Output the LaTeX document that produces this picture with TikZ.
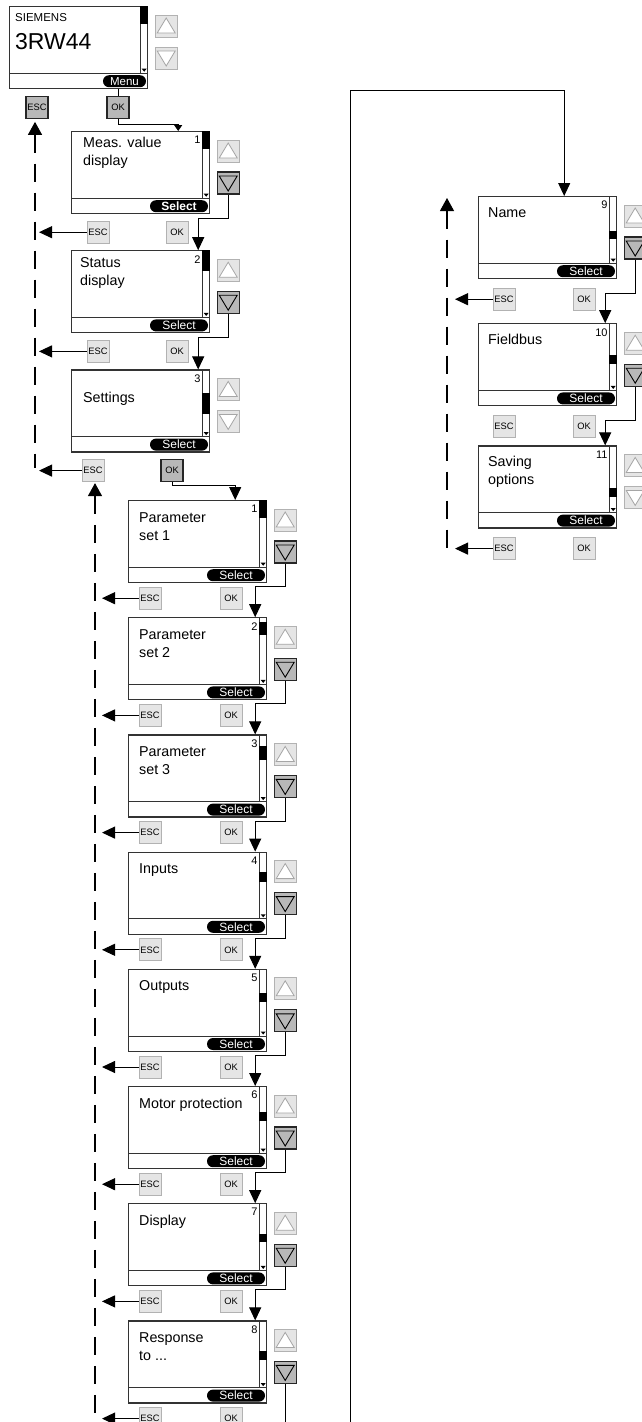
\documentclass[tikz,border=0pt]{standalone}
\usepackage{fontspec}
\setmainfont{Liberation Sans}
\usetikzlibrary{positioning,arrows.meta,calc}

\begin{document}
\begin{tikzpicture}[
    x=1pt, y=-1pt,
    tela/.style={draw=black!80, line width=1.2pt, minimum width=138pt,
                 minimum height=82pt, inner sep=0pt},
    rotulo/.style={font=\fontsize{14.3}{18}\selectfont, align=left,
                   anchor=north west, inner sep=0pt},
    numero/.style={font=\fontsize{11}{12}\selectfont, anchor=north east,
                   inner sep=0pt},
    pilula/.style={fill=black, rounded corners=6pt, minimum width=58pt,
                   minimum height=12pt, inner sep=0pt, text=white,
                   font=\fontsize{12}{12}\selectfont, anchor=east},
    tecla/.style={draw=black!30, fill=black!10, line width=1pt,
                  minimum size=22pt, inner sep=0pt,
                  font=\fontsize{9.3}{10}\selectfont},
    teclaon/.style={tecla, draw=black!85, fill=black!28, line width=1.3pt},
    sobe/.style={tecla, path picture={
        \draw[black!35, fill=white, line width=0.8pt]
          ([shift={(-9,7)}]path picture bounding box.center)
          -- ([shift={(9,7)}]path picture bounding box.center)
          -- ([shift={(0,-8)}]path picture bounding box.center) -- cycle;}},
    desce/.style={tecla, path picture={
        \draw[black!35, fill=white, line width=0.8pt]
          ([shift={(-9,-7)}]path picture bounding box.center)
          -- ([shift={(9,-7)}]path picture bounding box.center)
          -- ([shift={(0,8)}]path picture bounding box.center) -- cycle;}},
    desceon/.style={teclaon, path picture={
        \draw[black, line width=0.9pt]
          ([shift={(-9,-7)}]path picture bounding box.center)
          -- ([shift={(9,-7)}]path picture bounding box.center)
          -- ([shift={(0,8)}]path picture bounding box.center) -- cycle;}},
    seta/.style={-{Triangle[length=13pt, width=12pt]}, line width=1pt},
    lig/.style={line width=1pt},
    volta/.style={line width=1.1pt, dash pattern=on 18pt off 11pt},
  ]
  \path[use as bounding box, fill=white] (0,0) rectangle (641,1422);

  % telas
  \node[tela, anchor=north west] (ini) at (9,6) {};
  \node[tela, anchor=north west] (m1) at (71,131) {};
  \node[tela, below=36pt of m1] (m2) {};
  \node[tela, below=36pt of m2] (m3) {};
  \node[tela, anchor=north west] (p1) at (128,500) {};
  \foreach \a/\b in {p1/p2, p2/p3, p3/p4, p4/p5, p5/p6, p6/p7, p7/p8}
    {\node[tela, below=34pt of \a] (\b) {};}
  \node[tela, anchor=north west] (r9) at (478,196) {};
  \node[tela, below=44pt of r9] (r10) {};
  \node[tela, below=39pt of r10] (r11) {};

  \foreach \s/\k/\ta/\tb/\e in {ini//0/18/desce, m1/1/0/18/desceon,
      m2/2/0/21/desceon, m3/3/24/45/desce, p1/1/0/18/desceon,
      p2/2/5/18/desceon, p3/3/12/26/desceon, p4/4/20/30/desceon,
      p5/5/24/33/desceon, p6/6/26/35/desceon, p7/7/31/39/desceon,
      p8/8/31/40/desceon, r9/9/35/43/desceon, r10/10/32/41/desceon,
      r11/11/43/52/desce}
  {
    \draw[line width=0.9pt, black!80]
      ($(\s.south west)+(0,-16)$) -- ($(\s.south east)+(0,-16)$)
      ($(\s.north east)+(-8,0)$) -- ($(\s.south east)+(-8,-16)$);
    \fill ($(\s.north east)+(-8,\ta)$) rectangle ($(\s.north east)+(0,\tb)$);
    \fill ($(\s.south east)+(-6.5,-20.5)$) -- ($(\s.south east)+(-1.5,-20.5)$)
      -- ($(\s.south east)+(-4,-17.5)$) -- cycle;
    \node[numero] (\s-num) at ($(\s.north east)+(-9.5,5)$) {\k};
    \node[sobe] (\s-up) at ($(\s.north east)+(18,20)$) {};
    \node[\e] (\s-dn) at ($(\s.north east)+(18,52)$) {};
  }

  % barra inferior
  \node[pilula, minimum width=43pt, font=\fontsize{11.5}{12}\selectfont]
    (ini-sel) at ($(ini.south east)+(-2,-8)$) {Menu};
  \node[pilula, font=\fontsize{12}{12}\selectfont\bfseries]
    (m1-sel) at ($(m1.south east)+(-2,-8)$) {Select};
  \foreach \s in {m2,m3,p1,p2,p3,p4,p5,p6,p7,p8,r9,r10,r11}
    {\node[pilula] (\s-sel) at ($(\s.south east)+(-2,-8)$) {Select};}

  % textos
  \node[rotulo, font=\fontsize{11.5}{12}\selectfont] (ini-txt)
    at ($(ini.north west)+(6,7)$) {SIEMENS};
  \node[rotulo, font=\fontsize{23}{24}\selectfont] (ini-txt2)
    at ($(ini.north west)+(6,27)$) {3RW44};
  \node[rotulo] (m1-txt) at ($(m1.north west)+(12,6)$) {Meas. value\\display};
  \node[rotulo] (m2-txt) at ($(m2.north west)+(9,7)$) {Status\\display};
  \node[rotulo] (m3-txt) at ($(m3.north west)+(12,23)$) {Settings};
  \foreach \s/\t in {p1/{Parameter\\set 1}, p2/{Parameter\\set 2},
      p3/{Parameter\\set 3}, p4/Inputs, p5/Outputs, p6/Motor protection,
      p7/Display, p8/{Response\\to ...}}
    {\node[rotulo] (\s-txt) at ($(\s.north west)+(11,12)$) {\t};}
  \foreach \s/\t in {r9/Name, r10/Fieldbus, r11/{Saving\\options}}
    {\node[rotulo] (\s-txt) at ($(\s.north west)+(10,11)$) {\t};}

  % teclas ESC / OK
  \node[teclaon] (ini-esc) at ($(ini.south west)+(28,18)$) {ESC};
  \node[teclaon] (ini-ok) at ($(ini.south west)+(109,18)$) {OK};
  \foreach \s in {m1,m2}
    {\node[tecla] (\s-esc) at ($(\s.south west)+(27,18)$) {ESC};
     \node[tecla] (\s-ok) at ($(\s.south west)+(106,18)$) {OK};}
  \node[tecla] (m3-esc) at ($(m3.south west)+(22,18)$) {ESC};
  \node[teclaon] (m3-ok) at ($(m3.south west)+(101,18)$) {OK};
  \foreach \s in {p1,p2,p3,p4,p5,p6,p7,p8}
    {\node[tecla] (\s-esc) at ($(\s.south west)+(22,15)$) {ESC};
     \node[tecla] (\s-ok) at ($(\s.south west)+(103,15)$) {OK};}
  \foreach \s in {r9,r10,r11}
    {\node[tecla] (\s-esc) at ($(\s.south west)+(26,20)$) {ESC};
     \node[tecla] (\s-ok) at ($(\s.south west)+(106,20)$) {OK};}

  % ligacoes
  \draw[lig] (ini-ok.north) -- (ini-ok.north |- ini.south);
  \draw[lig, -{Triangle[length=6pt, width=8pt]}] (ini-ok.south) -- ++(0,6)
    -| ([xshift=-32pt]m1.north east);
  \draw[seta] (m3-ok.south) -- ++(0,3) -| ([xshift=-32pt]p1.north east);
  \foreach \a/\b in {m1/m2, m2/m3}
    {\draw[seta] (\a-dn.south) -- ++(0,24) -| ([xshift=-12pt]\b.north east);}
  \foreach \a/\b in {p1/p2, p2/p3, p3/p4, p4/p5, p5/p6, p6/p7, p7/p8}
    {\draw[seta] (\a-dn.south) -- ++(0,23) -| ([xshift=-12pt]\b.north east);}
  \foreach \a/\b in {r9/r10, r10/r11}
    {\draw[seta] (\a-dn.south) -- ++(0,34) -| ([xshift=-12pt]\b.north east);}

  % retorno (ESC)
  \coordinate (v1) at (35,468);
  \coordinate (v2) at (95,1422);
  \coordinate (v3) at (447,198);
  \draw[volta, {Triangle[length=13pt, width=14pt]}-, shorten <=3pt]
    (ini-esc.south -| v1) -- (v1);
  \draw[volta, {Triangle[length=13pt, width=14pt]}-, shorten <=1pt]
    (m3-esc.south -| v2) -- (v2);
  \draw[volta, {Triangle[length=13pt, width=14pt]}-] (v3) -- (v3 |- r11-esc.west);
  \foreach \s in {m1,m2,m3}
    {\draw[seta, shorten >=4pt] (\s-esc.west) -- (\s-esc.west -| v1);}
  \foreach \s in {p1,p2,p3,p4,p5,p6,p7,p8}
    {\draw[seta, shorten >=7pt] (\s-esc.west) -- (\s-esc.west -| v2);}
  \foreach \s in {r9,r11}
    {\draw[seta, shorten >=8pt] (\s-esc.west) -- (\s-esc.west -| v3);}

  % laco para a segunda coluna
  \coordinate (laco) at (350,1422);
  \draw[lig] (p8-dn.south) -- (p8-dn.south |- v2);
  \draw[seta] (laco) |- ([shift={(-53,-106)}]r9.north east)
    -- ([xshift=-53pt]r9.north east);
\end{tikzpicture}
\end{document}
